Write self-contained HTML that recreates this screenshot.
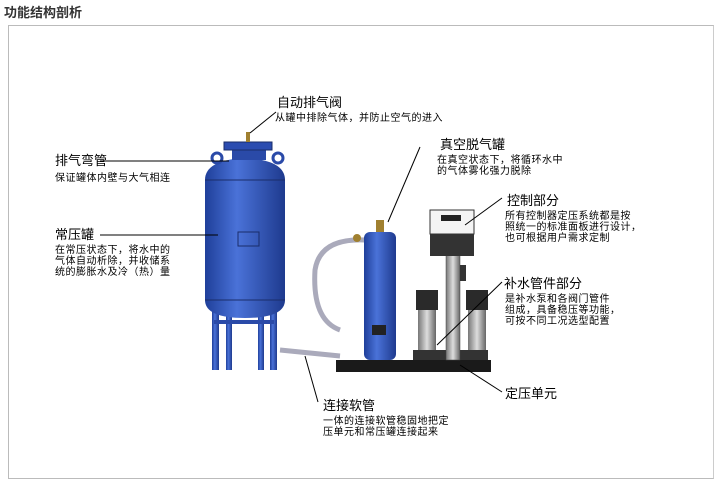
<!DOCTYPE html>
<html><head><meta charset="utf-8"><style>
body{margin:0;width:721px;height:490px;background:#fff;position:relative;overflow:hidden;font-family:"Liberation Sans","Noto Sans CJK SC",sans-serif;color:#000}
.t{position:absolute;white-space:nowrap}
.h{font-size:13px;line-height:15px}
.d{font-size:10px;line-height:12px;letter-spacing:0.5px}
</style></head><body>
<div class="t" style="left:4px;top:2px;font-size:13px;font-weight:bold;color:#333">功能结构剖析</div>
<div style="position:absolute;left:8px;top:25px;width:704px;height:452px;border:1px solid #bbb;border-right-color:#ccc"></div>
<svg width="721" height="490" style="position:absolute;left:0;top:0">
<defs>
<linearGradient id="b" x1="0" x2="1"><stop offset="0" stop-color="#1f3f9a"/><stop offset=".4" stop-color="#4a72d8"/><stop offset="1" stop-color="#1e3a8e"/></linearGradient>
<linearGradient id="g" x1="0" x2="1"><stop offset="0" stop-color="#777"/><stop offset=".5" stop-color="#ddd"/><stop offset="1" stop-color="#666"/></linearGradient>
</defs>
<!-- big tank legs -->
<rect x="212" y="300" width="7" height="70" fill="url(#b)"/><rect x="226" y="300" width="6" height="70" fill="url(#b)"/>
<rect x="258" y="300" width="6" height="70" fill="url(#b)"/><rect x="270" y="300" width="7" height="70" fill="url(#b)"/>
<rect x="214" y="320" width="60" height="4" fill="#2a4aa8"/>
<path d="M205,180 Q205,160 245,158 Q285,160 285,180 L285,300 Q285,318 245,318 Q205,318 205,300Z" fill="url(#b)"/>
<line x1="205" y1="180" x2="285" y2="180" stroke="#1a2d6a"/>
<line x1="205" y1="300" x2="285" y2="300" stroke="#1a2d6a"/>
<rect x="238" y="232" width="21" height="14" fill="none" stroke="#1a2d6a"/>
<rect x="232" y="148" width="34" height="12" fill="#2a4aa8"/>
<rect x="224" y="142" width="48" height="8" fill="#2b4cb0" stroke="#1a2d6a"/>
<rect x="246" y="132" width="4" height="10" fill="#a08030"/>
<circle cx="217" cy="158" r="5" fill="none" stroke="#2a4aa8" stroke-width="3"/>
<circle cx="278" cy="158" r="5" fill="none" stroke="#2a4aa8" stroke-width="3"/>
<!-- hose -->
<path d="M365,240 Q320,238 315,270 Q312,320 340,330" fill="none" stroke="#aab" stroke-width="5"/>
<path d="M280,343 L420,343" stroke="url(#g)" stroke-width="5"/>
<path d="M280,350 Q300,352 340,356" fill="none" stroke="#aab" stroke-width="5"/>
<!-- small tank -->
<rect x="364" y="232" width="32" height="128" rx="6" fill="url(#b)"/>
<rect x="376" y="220" width="8" height="12" fill="#a08030"/>
<circle cx="357" cy="238" r="4" fill="#a08030"/>
<rect x="372" y="325" width="14" height="10" fill="#222"/>
<!-- base -->
<rect x="336" y="360" width="155" height="12" fill="#1a1a1a"/>
<rect x="413" y="350" width="75" height="10" fill="#333"/>
<!-- control -->
<rect x="446" y="255" width="14" height="105" fill="url(#g)" stroke="#444" stroke-width=".5"/>
<rect x="430" y="210" width="44" height="24" fill="#f4f4f4" stroke="#333"/>
<rect x="441" y="215" width="20" height="6" fill="#222"/>
<rect x="430" y="234" width="44" height="22" fill="#333"/>
<!-- pumps -->
<rect x="416" y="290" width="22" height="20" fill="#2a2a2a"/><rect x="418" y="310" width="18" height="40" fill="url(#g)"/>
<rect x="466" y="290" width="22" height="20" fill="#2a2a2a"/><rect x="468" y="310" width="18" height="40" fill="url(#g)"/>
<rect x="460" y="265" width="6" height="16" fill="#333"/>
<g stroke="#000" stroke-width="1" fill="none">
<path d="M250,133 L276,112"/>
<path d="M100,161 L229,161"/>
<path d="M100,235 L218,235"/>
<path d="M388,222 L420,147"/>
<path d="M465,225 L502,198"/>
<path d="M437,345 L502,282"/>
<path d="M460,365 L502,392"/>
<path d="M305,356 L318,402"/>
</g>
</svg>
<div class="t h" style="left:277px;top:95px">自动排气阀</div>
<div class="t d" style="left:275px;top:113px">从罐中排除气体，并防止空气的进入</div>
<div class="t h" style="left:55px;top:153px">排气弯管</div>
<div class="t d" style="left:55px;top:173px">保证罐体内壁与大气相连</div>
<div class="t h" style="left:55px;top:227px">常压罐</div>
<div class="t d" style="left:55px;top:245px;line-height:11px">在常压状态下，将水中的<br>气体自动析除，并收储系<br>统的膨胀水及冷（热）量</div>
<div class="t h" style="left:440px;top:137px">真空脱气罐</div>
<div class="t d" style="left:437px;top:155px;line-height:11px">在真空状态下，将循环水中<br>的气体雾化强力脱除</div>
<div class="t h" style="left:507px;top:193px">控制部分</div>
<div class="t d" style="left:505px;top:211px;line-height:11px">所有控制器定压系统都是按<br>照统一的标准面板进行设计，<br>也可根据用户需求定制</div>
<div class="t h" style="left:504px;top:276px">补水管件部分</div>
<div class="t d" style="left:505px;top:294px;line-height:11px">是补水泵和各阀门管件<br>组成，具备稳压等功能，<br>可按不同工况选型配置</div>
<div class="t h" style="left:505px;top:386px">定压单元</div>
<div class="t h" style="left:323px;top:398px">连接软管</div>
<div class="t d" style="left:323px;top:416px;line-height:11px">一体的连接软管稳固地把定<br>压单元和常压罐连接起来</div>
</body></html>
